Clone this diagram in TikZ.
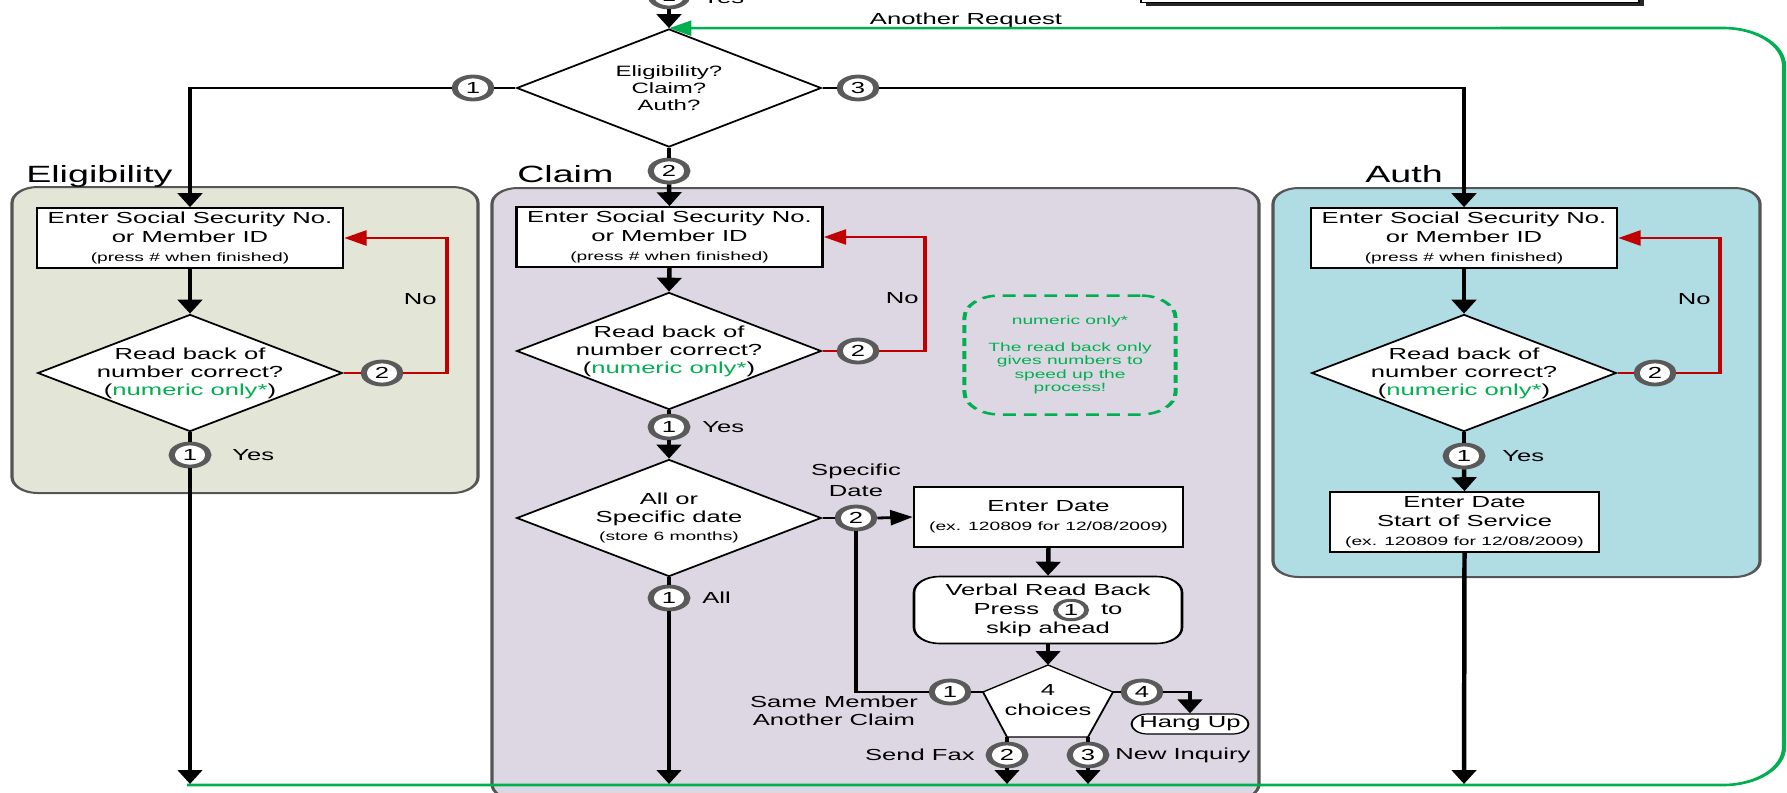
\documentclass[tikz,border=0pt]{standalone}
\usepackage{fontspec}
\setmainfont{Liberation Sans}
\usetikzlibrary{arrows.meta,shapes.geometric}
\definecolor{eligc}{RGB}{227,229,214}
\definecolor{claimc}{RGB}{221,215,228}
\definecolor{authc}{RGB}{176,220,228}
\definecolor{grn}{RGB}{0,176,80}
\definecolor{redc}{RGB}{192,0,0}
\definecolor{ring}{RGB}{90,90,90}
\definecolor{secb}{RGB}{85,85,85}
\newcommand\fmain{\fontsize{16}{19}\selectfont}
\newcommand\fdia{\fontsize{16}{18}\selectfont}
\newcommand\fsmall{\fontsize{12}{14}\selectfont}
\newcommand\flab{\fontsize{23.5}{28}\selectfont}
\newcommand\fnote{\fontsize{12}{13.4}\selectfont}
\tikzset{
  section/.style={draw=secb, line width=2pt, rounded corners=16pt},
  entry/.style={draw=black, line width=1.6pt, fill=white, minimum width=191.25pt, minimum height=60pt, align=center, font=\fmain, inner sep=0pt},
  dia/.style={draw=black, line width=1.6pt, fill=white, diamond, minimum width=190.6pt, minimum height=117pt, inner sep=0pt},
  dtext/.style={align=center, font=\fdia, inner sep=0pt},
  num/.style={circle, draw=ring, line width=3.8pt, fill=white, minimum size=23pt, inner sep=0pt, font=\fontsize{16}{16}\selectfont},
  lbl/.style={font=\fmain, inner sep=0pt},
  seclbl/.style={font=\flab, inner sep=0pt, anchor=base west},
  conn/.style={line width=2.8pt, draw=black},
  arr/.style={conn, -{Triangle[length=14pt,width=15pt]}},
  rconn/.style={line width=2.8pt, draw=redc},
  rarr/.style={rconn, -{Triangle[length=14pt,width=15pt]}},
  garr/.style={line width=2.6pt, draw=grn, -{Triangle[length=14pt,width=15pt]}}
}
\begin{document}
\begin{tikzpicture}[x=1pt,y=-1pt]
\useasboundingbox (0,0) rectangle (1787,792);
\clip (0,0) rectangle (1787,792);
\begin{scope}[transform canvas={xscale=1.6}, x=0.625pt, y=-1pt]
% section backgrounds
\draw[section, fill=eligc] (12,187) rectangle (478,493);
\draw[section, fill=claimc] (492,188) rectangle (1259,800);
\draw[section, fill=authc] (1273,188) rectangle (1760,577);
\node[seclbl] (leli) at (26,182) {Eligibility};
\node[seclbl] (lcla) at (517,182) {Claim};
\node[seclbl] (laut) at (1365,182) {Auth};
% cut-off box top right
\fill[black!85] (1146,-30) rectangle (1644,6);
\draw[line width=1.2pt, fill=white] (1141,-30) rectangle (1639,2.5);

% top decision
\node[dia, minimum height=118pt] (top) at (669,88) {};
\node[dtext, font=\fontsize{15}{17}\selectfont] (toptxt) at (top) {Eligibility?\\Claim?\\Auth?};
\node[num] (ctop) at (669,-4) {1};
\node[lbl, anchor=west] (ytop) at (702,-2) {Yes};
\node[num] (tc1) at (473,88) {1};
\node[num] (tc3) at (858,88) {3};
\node[num] (tc2) at (669,171) {2};
\node[lbl, anchor=base] (areq) at (966,25) {Another Request};

% Eligibility
\node[entry] (eenter) at (190,238) {Enter Social Security No.\\or Member ID\\{\fsmall (press \# when finished)}};
\node[dia] (ed) at (190,373) {};
\node[dtext] (edt) at (ed) {Read back of\\number correct?\\(\textcolor{grn}{numeric only*})};
\node[num] (ec2) at (382,373) {2};
\coordinate (er) at (447,238);
\node[lbl, anchor=east] (eno) at (437,299) {No};
\node[num] (ec1) at (190,455) {1};
\node[lbl, anchor=west] (eyes) at (232,455) {Yes};
\coordinate (eend) at (190,784);

% Claim
\node[entry] (cenr) at (669.5,237) {Enter Social Security No.\\or Member ID\\{\fsmall (press \# when finished)}};
\node[dia] (cd) at (669,351) {};
\node[dtext] (cdt) at (cd) {Read back of\\number correct?\\(\textcolor{grn}{numeric only*})};
\node[num] (cc2) at (858,351) {2};
\coordinate (cr) at (925,237);
\node[lbl, anchor=east] (cno) at (919,298) {No};
\node[draw=grn, line width=2.5pt, dash pattern=on 8pt off 5pt, rounded corners=22pt, minimum width=131.9pt, minimum height=119pt, text=grn, align=center, font=\fnote, inner sep=0pt] (note) at (1070,355) {numeric only*\\\mbox{}\\The read back only\\gives numbers to\\speed up the\\process!};
\node[num] (cc1) at (669,427) {1};
\node[lbl, anchor=west] (cyes) at (702,427) {Yes};
\node[dia] (cd2) at (669,518) {};
\node[dtext] (cd2t) at (cd2) {All or\\Specific date\\{\fsmall (store 6 months)}};
\node[num] (cs2) at (856,518) {2};
\node[lbl, align=center, font=\fontsize{16}{21}\selectfont] (cspec) at (856,480) {Specific\\Date};
\node[entry, minimum width=168.1pt] (cdate) at (1048.5,517) {Enter Date\\{\fsmall (ex. 120809 for 12/08/2009)}};
\node[entry, minimum width=167.5pt, minimum height=67pt, rounded corners=16pt] (verb) at (1048,610) {Verbal Read Back\\Press\hspace{38.75pt}to\\skip ahead};
\node[num, minimum size=19.5pt, line width=3pt] (vc1) at (1071,610) {1};
\node[num] (ca1) at (669,598) {1};
\node[lbl, anchor=west] (call) at (702,598) {All};
\coordinate (cend) at (669,784);
% pentagon
\coordinate (ptop) at (1048,665);
\coordinate (pright) at (1113,692);
\coordinate (pbr) at (1088,737);
\coordinate (pbl) at (1007,737);
\coordinate (pleft) at (983,692);
\draw[line width=1.2pt, fill=white] (ptop) -- (pright) -- (pbr) -- (pbl) -- (pleft) -- cycle;
\node[dtext, font=\fontsize{16}{20}\selectfont] (pent) at (1048,700) {4\\choices};
\node[num] (pc1) at (950,692) {1};
\node[num] (pc4) at (1142,692) {4};
\node[num] (pc2) at (1007,755) {2};
\node[num] (pc3) at (1088,755) {3};
\node[lbl, align=center, font=\fontsize{16}{18}\selectfont] (csame) at (834,711) {Same Member\\Another Claim};
\node[lbl, anchor=east] (cfax) at (975,755) {Send Fax};
\node[lbl, anchor=west] (cinq) at (1115,755) {New Inquiry};
\node[draw, line width=1.2pt, fill=white, rounded corners=10pt, minimum width=73.1pt, minimum height=20pt, inner sep=0pt, font=\fmain] (hang) at (1190,724) {Hang Up};
\coordinate (fend) at (1007,784);
\coordinate (iend) at (1088,784);

% Auth
\node[entry] (aenter) at (1464,238) {Enter Social Security No.\\or Member ID\\{\fsmall (press \# when finished)}};
\node[dia] (ad) at (1464,373) {};
\node[dtext] (adt) at (ad) {Read back of\\number correct?\\(\textcolor{grn}{numeric only*})};
\node[num] (ac2) at (1655,373) {2};
\coordinate (ar) at (1720,238);
\node[lbl, anchor=east] (ano) at (1711,299) {No};
\node[num] (ac1) at (1464,456) {1};
\node[lbl, anchor=west] (ayes) at (1502,456) {Yes};
\node[entry, minimum width=168.1pt] (adate) at (1464.5,522) {Enter Date\\Start of Service\\{\fsmall (ex. 120809 for 12/08/2009)}};
\coordinate (aend) at (1464,784);

% green loop
\coordinate (gs) at (187,785);
\coordinate (gbr) at (1784,785);
\coordinate (gtr) at (1784,28);
\draw[garr, rounded corners=38pt] (gs) -- (gbr) -- (gtr) -- (top.north);

% top connectors
\draw[arr] (ctop) -- (top.north);
\draw[conn] (top.west) -- (tc1.east);
\draw[conn] (top.east) -- (tc3.west);
\draw[conn] (top.south) -- (tc2.north);
\draw[arr] (tc1.west) -| (eenter.north);
\draw[arr] (tc3.east) -| (aenter.north);
\draw[arr] (tc2.south) -- (cenr.north);

% eligibility connectors
\draw[arr] (eenter.south) -- (ed.north);
\draw[rconn] (ed.east) -- (ec2.west);
\draw[rarr] (ec2.east) -| (er) -- (eenter.east);
\draw[conn] (ed.south) -- (ec1.north);
\draw[arr] (ec1.south) -- (eend);

% claim connectors
\draw[arr] (cenr.south) -- (cd.north);
\draw[rconn] (cd.east) -- (cc2.west);
\draw[rarr] (cc2.east) -| (cr) -- (cenr.east);
\draw[conn] (cd.south) -- (cc1.north);
\draw[arr] (cc1.south) -- (cd2.north);
\draw[conn] (cd2.east) -- (cs2.west);
\draw[arr] (cs2.east) -- (cdate.west);
\draw[conn] (cs2.south) |- (pc1.west);
\draw[conn] (cd2.south) -- (ca1.north);
\draw[arr] (ca1.south) -- (cend);
\draw[arr] (cdate.south) -- (verb.north);
\draw[arr] (verb.south) -- (ptop);
\draw[conn] (pleft) -- (pc1.east);
\draw[conn] (pright) -- (pc4.west);
\draw[arr] (pc4.east) -| (hang.north);
\draw[conn] (pbl) -- (pc2.north);
\draw[arr] (pc2.south) -- (fend);
\draw[conn] (pbr) -- (pc3.north);
\draw[arr] (pc3.south) -- (iend);

% auth connectors
\draw[arr] (aenter.south) -- (ad.north);
\draw[rconn] (ad.east) -- (ac2.west);
\draw[rarr] (ac2.east) -| (ar) -- (aenter.east);
\draw[conn] (ad.south) -- (ac1.north);
\draw[arr] (ac1.south) -- (adate.north);
\draw[arr] (adate.south) -- (aend);
\end{scope}
\end{tikzpicture}
\end{document}
